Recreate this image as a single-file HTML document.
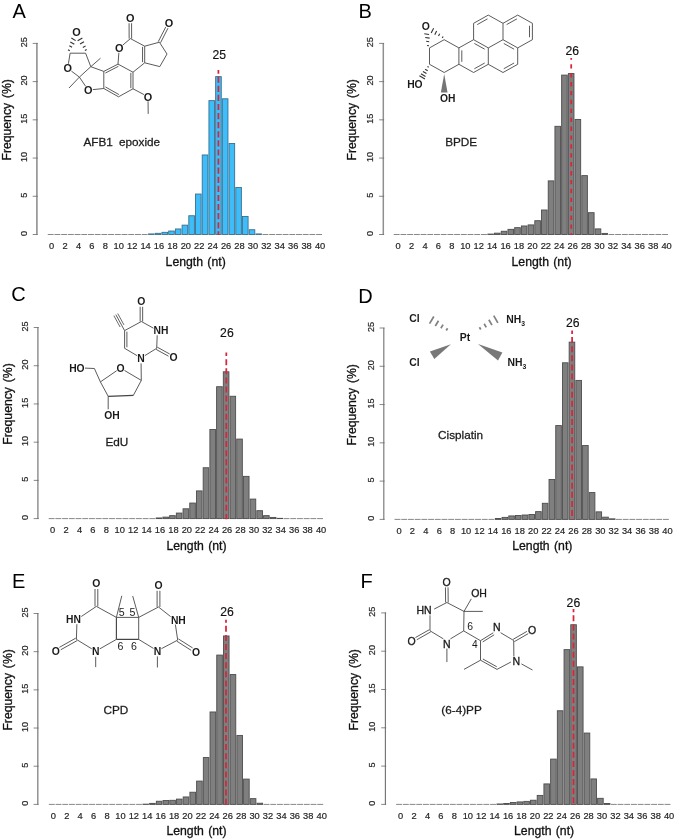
<!DOCTYPE html>
<html><head><meta charset="utf-8"><title>Figure</title>
<style>
html,body{margin:0;padding:0;background:#fff;}
svg{display:block;font-family:"Liberation Sans",sans-serif;will-change:transform;}
</style></head><body>
<svg width="674" height="840" viewBox="0 0 674 840">
<rect x="0" y="0" width="674" height="840" fill="#ffffff"/>
<text x="12.50" y="17.80" font-size="20"  text-anchor="start" fill="#000" >A</text>
<line x1="36.90" y1="43.10" x2="36.90" y2="234.80" stroke="#969696" stroke-width="1.7" />
<line x1="32.70" y1="234.50" x2="37.70" y2="234.50" stroke="#6a6a6a" stroke-width="0.8" />
<text transform="translate(27.40,233.40) rotate(-90)" font-size="9.1" text-anchor="middle" fill="#262626" stroke="#262626" stroke-width="0.2">0</text>
<line x1="32.70" y1="196.28" x2="37.70" y2="196.28" stroke="#6a6a6a" stroke-width="0.8" />
<text transform="translate(27.40,195.18) rotate(-90)" font-size="9.1" text-anchor="middle" fill="#262626" stroke="#262626" stroke-width="0.2">5</text>
<line x1="32.70" y1="158.06" x2="37.70" y2="158.06" stroke="#6a6a6a" stroke-width="0.8" />
<text transform="translate(27.40,156.96) rotate(-90)" font-size="9.1" text-anchor="middle" fill="#262626" stroke="#262626" stroke-width="0.2">10</text>
<line x1="32.70" y1="119.84" x2="37.70" y2="119.84" stroke="#6a6a6a" stroke-width="0.8" />
<text transform="translate(27.40,118.74) rotate(-90)" font-size="9.1" text-anchor="middle" fill="#262626" stroke="#262626" stroke-width="0.2">15</text>
<line x1="32.70" y1="81.62" x2="37.70" y2="81.62" stroke="#6a6a6a" stroke-width="0.8" />
<text transform="translate(27.40,80.52) rotate(-90)" font-size="9.1" text-anchor="middle" fill="#262626" stroke="#262626" stroke-width="0.2">20</text>
<line x1="32.70" y1="43.40" x2="37.70" y2="43.40" stroke="#6a6a6a" stroke-width="0.8" />
<text transform="translate(27.40,42.30) rotate(-90)" font-size="9.1" text-anchor="middle" fill="#262626" stroke="#262626" stroke-width="0.2">25</text>
<text transform="translate(10.70,119.80) rotate(-90)" font-size="12.2" word-spacing="1.5" text-anchor="middle" fill="#111" stroke="#111" stroke-width="0.3">Frequency (%)</text>
<line x1="47.75" y1="234.50" x2="53.65" y2="234.50" stroke="#555555" stroke-width="0.7" />
<line x1="54.46" y1="234.50" x2="60.36" y2="234.50" stroke="#555555" stroke-width="0.7" />
<line x1="61.17" y1="234.50" x2="67.07" y2="234.50" stroke="#555555" stroke-width="0.7" />
<line x1="67.88" y1="234.50" x2="73.78" y2="234.50" stroke="#555555" stroke-width="0.7" />
<line x1="74.59" y1="234.50" x2="80.49" y2="234.50" stroke="#555555" stroke-width="0.7" />
<line x1="81.30" y1="234.50" x2="87.20" y2="234.50" stroke="#555555" stroke-width="0.7" />
<line x1="88.01" y1="234.50" x2="93.91" y2="234.50" stroke="#555555" stroke-width="0.7" />
<line x1="94.72" y1="234.50" x2="100.62" y2="234.50" stroke="#555555" stroke-width="0.7" />
<line x1="101.43" y1="234.50" x2="107.33" y2="234.50" stroke="#555555" stroke-width="0.7" />
<line x1="108.14" y1="234.50" x2="114.04" y2="234.50" stroke="#555555" stroke-width="0.7" />
<line x1="114.85" y1="234.50" x2="120.75" y2="234.50" stroke="#555555" stroke-width="0.7" />
<line x1="121.56" y1="234.50" x2="127.46" y2="234.50" stroke="#555555" stroke-width="0.7" />
<line x1="128.27" y1="234.50" x2="134.17" y2="234.50" stroke="#555555" stroke-width="0.7" />
<line x1="134.98" y1="234.50" x2="140.88" y2="234.50" stroke="#555555" stroke-width="0.7" />
<line x1="141.69" y1="234.50" x2="147.59" y2="234.50" stroke="#555555" stroke-width="0.7" />
<rect x="148.55" y="233.93" width="5.6" height="0.57" fill="#3dbdf9" stroke="#3d6f8c" stroke-width="0.9"/>
<rect x="155.26" y="233.32" width="5.6" height="1.18" fill="#3dbdf9" stroke="#3d6f8c" stroke-width="0.9"/>
<rect x="161.97" y="232.33" width="5.6" height="2.17" fill="#3dbdf9" stroke="#3d6f8c" stroke-width="0.9"/>
<rect x="168.68" y="231.03" width="5.6" height="3.47" fill="#3dbdf9" stroke="#3d6f8c" stroke-width="0.9"/>
<rect x="175.39" y="228.96" width="5.6" height="5.54" fill="#3dbdf9" stroke="#3d6f8c" stroke-width="0.9"/>
<rect x="182.10" y="225.14" width="5.6" height="9.36" fill="#3dbdf9" stroke="#3d6f8c" stroke-width="0.9"/>
<rect x="188.81" y="215.74" width="5.6" height="18.76" fill="#3dbdf9" stroke="#3d6f8c" stroke-width="0.9"/>
<rect x="195.52" y="194.03" width="5.6" height="40.47" fill="#3dbdf9" stroke="#3d6f8c" stroke-width="0.9"/>
<rect x="202.23" y="154.97" width="5.6" height="79.53" fill="#3dbdf9" stroke="#3d6f8c" stroke-width="0.9"/>
<rect x="208.94" y="100.62" width="5.6" height="133.88" fill="#3dbdf9" stroke="#3d6f8c" stroke-width="0.9"/>
<rect x="215.65" y="76.62" width="5.6" height="157.88" fill="#3dbdf9" stroke="#3d6f8c" stroke-width="0.9"/>
<rect x="222.36" y="98.79" width="5.6" height="135.71" fill="#3dbdf9" stroke="#3d6f8c" stroke-width="0.9"/>
<rect x="229.07" y="143.50" width="5.6" height="91.00" fill="#3dbdf9" stroke="#3d6f8c" stroke-width="0.9"/>
<rect x="235.78" y="187.46" width="5.6" height="47.04" fill="#3dbdf9" stroke="#3d6f8c" stroke-width="0.9"/>
<rect x="242.49" y="216.50" width="5.6" height="18.00" fill="#3dbdf9" stroke="#3d6f8c" stroke-width="0.9"/>
<rect x="249.20" y="229.73" width="5.6" height="4.77" fill="#3dbdf9" stroke="#3d6f8c" stroke-width="0.9"/>
<rect x="255.91" y="233.93" width="5.6" height="0.57" fill="#3dbdf9" stroke="#3d6f8c" stroke-width="0.9"/>
<line x1="262.47" y1="234.50" x2="268.37" y2="234.50" stroke="#555555" stroke-width="0.7" />
<line x1="269.18" y1="234.50" x2="275.08" y2="234.50" stroke="#555555" stroke-width="0.7" />
<line x1="275.89" y1="234.50" x2="281.79" y2="234.50" stroke="#555555" stroke-width="0.7" />
<line x1="282.60" y1="234.50" x2="288.50" y2="234.50" stroke="#555555" stroke-width="0.7" />
<line x1="289.31" y1="234.50" x2="295.21" y2="234.50" stroke="#555555" stroke-width="0.7" />
<line x1="296.02" y1="234.50" x2="301.92" y2="234.50" stroke="#555555" stroke-width="0.7" />
<line x1="302.73" y1="234.50" x2="308.63" y2="234.50" stroke="#555555" stroke-width="0.7" />
<line x1="309.44" y1="234.50" x2="315.34" y2="234.50" stroke="#555555" stroke-width="0.7" />
<line x1="316.15" y1="234.50" x2="322.05" y2="234.50" stroke="#555555" stroke-width="0.7" />
<text x="51.65" y="249.30" font-size="9.3" text-anchor="middle" fill="#262626" stroke="#262626" stroke-width="0.2">0</text>
<text x="65.07" y="249.30" font-size="9.3" text-anchor="middle" fill="#262626" stroke="#262626" stroke-width="0.2">2</text>
<text x="78.49" y="249.30" font-size="9.3" text-anchor="middle" fill="#262626" stroke="#262626" stroke-width="0.2">4</text>
<text x="91.91" y="249.30" font-size="9.3" text-anchor="middle" fill="#262626" stroke="#262626" stroke-width="0.2">6</text>
<text x="105.33" y="249.30" font-size="9.3" text-anchor="middle" fill="#262626" stroke="#262626" stroke-width="0.2">8</text>
<text x="118.75" y="249.30" font-size="9.3" text-anchor="middle" fill="#262626" stroke="#262626" stroke-width="0.2">10</text>
<text x="132.17" y="249.30" font-size="9.3" text-anchor="middle" fill="#262626" stroke="#262626" stroke-width="0.2">12</text>
<text x="145.59" y="249.30" font-size="9.3" text-anchor="middle" fill="#262626" stroke="#262626" stroke-width="0.2">14</text>
<text x="159.01" y="249.30" font-size="9.3" text-anchor="middle" fill="#262626" stroke="#262626" stroke-width="0.2">16</text>
<text x="172.43" y="249.30" font-size="9.3" text-anchor="middle" fill="#262626" stroke="#262626" stroke-width="0.2">18</text>
<text x="185.85" y="249.30" font-size="9.3" text-anchor="middle" fill="#262626" stroke="#262626" stroke-width="0.2">20</text>
<text x="199.27" y="249.30" font-size="9.3" text-anchor="middle" fill="#262626" stroke="#262626" stroke-width="0.2">22</text>
<text x="212.69" y="249.30" font-size="9.3" text-anchor="middle" fill="#262626" stroke="#262626" stroke-width="0.2">24</text>
<text x="226.11" y="249.30" font-size="9.3" text-anchor="middle" fill="#262626" stroke="#262626" stroke-width="0.2">26</text>
<text x="239.53" y="249.30" font-size="9.3" text-anchor="middle" fill="#262626" stroke="#262626" stroke-width="0.2">28</text>
<text x="252.95" y="249.30" font-size="9.3" text-anchor="middle" fill="#262626" stroke="#262626" stroke-width="0.2">30</text>
<text x="266.37" y="249.30" font-size="9.3" text-anchor="middle" fill="#262626" stroke="#262626" stroke-width="0.2">32</text>
<text x="279.79" y="249.30" font-size="9.3" text-anchor="middle" fill="#262626" stroke="#262626" stroke-width="0.2">34</text>
<text x="293.21" y="249.30" font-size="9.3" text-anchor="middle" fill="#262626" stroke="#262626" stroke-width="0.2">36</text>
<text x="306.63" y="249.30" font-size="9.3" text-anchor="middle" fill="#262626" stroke="#262626" stroke-width="0.2">38</text>
<text x="320.05" y="249.30" font-size="9.3" text-anchor="middle" fill="#262626" stroke="#262626" stroke-width="0.2">40</text>
<text x="195.65" y="265.50" font-size="12.25"  text-anchor="middle" fill="#111" word-spacing="0.9" stroke="#111" stroke-width="0.3">Length (nt)</text>
<line x1="218.40" y1="70.10" x2="218.40" y2="235.10" stroke="#d9253a" stroke-width="1.75" stroke-dasharray="6.2 2.9" stroke-dashoffset="2.6"/>
<text x="219.30" y="59.00" font-size="12.2"  text-anchor="middle" fill="#111" stroke="#111" stroke-width="0.15">25</text>
<text x="83.50" y="145.80" font-size="11.75"  text-anchor="start" fill="#1c1c1c" stroke="#1c1c1c" stroke-width="0.28">AFB1</text>
<text x="119.00" y="145.80" font-size="11.75"  text-anchor="start" fill="#1c1c1c" stroke="#1c1c1c" stroke-width="0.28">epoxide</text>
<text x="358.40" y="17.50" font-size="20"  text-anchor="start" fill="#000" >B</text>
<line x1="383.30" y1="43.10" x2="383.30" y2="234.80" stroke="#8f8f8f" stroke-width="1.5" />
<line x1="379.10" y1="234.50" x2="384.10" y2="234.50" stroke="#6a6a6a" stroke-width="0.8" />
<text transform="translate(373.20,233.40) rotate(-90)" font-size="9.1" text-anchor="middle" fill="#262626" stroke="#262626" stroke-width="0.2">0</text>
<line x1="379.10" y1="196.28" x2="384.10" y2="196.28" stroke="#6a6a6a" stroke-width="0.8" />
<text transform="translate(373.20,195.18) rotate(-90)" font-size="9.1" text-anchor="middle" fill="#262626" stroke="#262626" stroke-width="0.2">5</text>
<line x1="379.10" y1="158.06" x2="384.10" y2="158.06" stroke="#6a6a6a" stroke-width="0.8" />
<text transform="translate(373.20,156.96) rotate(-90)" font-size="9.1" text-anchor="middle" fill="#262626" stroke="#262626" stroke-width="0.2">10</text>
<line x1="379.10" y1="119.84" x2="384.10" y2="119.84" stroke="#6a6a6a" stroke-width="0.8" />
<text transform="translate(373.20,118.74) rotate(-90)" font-size="9.1" text-anchor="middle" fill="#262626" stroke="#262626" stroke-width="0.2">15</text>
<line x1="379.10" y1="81.62" x2="384.10" y2="81.62" stroke="#6a6a6a" stroke-width="0.8" />
<text transform="translate(373.20,80.52) rotate(-90)" font-size="9.1" text-anchor="middle" fill="#262626" stroke="#262626" stroke-width="0.2">20</text>
<line x1="379.10" y1="43.40" x2="384.10" y2="43.40" stroke="#6a6a6a" stroke-width="0.8" />
<text transform="translate(373.20,42.30) rotate(-90)" font-size="9.1" text-anchor="middle" fill="#262626" stroke="#262626" stroke-width="0.2">25</text>
<text transform="translate(355.50,119.80) rotate(-90)" font-size="12.2" word-spacing="1.5" text-anchor="middle" fill="#111" stroke="#111" stroke-width="0.3">Frequency (%)</text>
<line x1="393.75" y1="234.50" x2="399.65" y2="234.50" stroke="#555555" stroke-width="0.7" />
<line x1="400.46" y1="234.50" x2="406.36" y2="234.50" stroke="#555555" stroke-width="0.7" />
<line x1="407.17" y1="234.50" x2="413.07" y2="234.50" stroke="#555555" stroke-width="0.7" />
<line x1="413.88" y1="234.50" x2="419.78" y2="234.50" stroke="#555555" stroke-width="0.7" />
<line x1="420.59" y1="234.50" x2="426.49" y2="234.50" stroke="#555555" stroke-width="0.7" />
<line x1="427.30" y1="234.50" x2="433.20" y2="234.50" stroke="#555555" stroke-width="0.7" />
<line x1="434.01" y1="234.50" x2="439.91" y2="234.50" stroke="#555555" stroke-width="0.7" />
<line x1="440.72" y1="234.50" x2="446.62" y2="234.50" stroke="#555555" stroke-width="0.7" />
<line x1="447.43" y1="234.50" x2="453.33" y2="234.50" stroke="#555555" stroke-width="0.7" />
<line x1="454.14" y1="234.50" x2="460.04" y2="234.50" stroke="#555555" stroke-width="0.7" />
<line x1="460.85" y1="234.50" x2="466.75" y2="234.50" stroke="#555555" stroke-width="0.7" />
<line x1="467.56" y1="234.50" x2="473.46" y2="234.50" stroke="#555555" stroke-width="0.7" />
<line x1="474.27" y1="234.50" x2="480.17" y2="234.50" stroke="#555555" stroke-width="0.7" />
<line x1="480.98" y1="234.50" x2="486.88" y2="234.50" stroke="#555555" stroke-width="0.7" />
<rect x="487.84" y="234.09" width="5.6" height="0.41" fill="#7f7f7f" stroke="#4d4d4d" stroke-width="0.9"/>
<rect x="494.55" y="233.17" width="5.6" height="1.33" fill="#7f7f7f" stroke="#4d4d4d" stroke-width="0.9"/>
<rect x="501.26" y="231.26" width="5.6" height="3.24" fill="#7f7f7f" stroke="#4d4d4d" stroke-width="0.9"/>
<rect x="507.97" y="229.35" width="5.6" height="5.15" fill="#7f7f7f" stroke="#4d4d4d" stroke-width="0.9"/>
<rect x="514.68" y="227.66" width="5.6" height="6.84" fill="#7f7f7f" stroke="#4d4d4d" stroke-width="0.9"/>
<rect x="521.39" y="225.98" width="5.6" height="8.52" fill="#7f7f7f" stroke="#4d4d4d" stroke-width="0.9"/>
<rect x="528.10" y="224.91" width="5.6" height="9.59" fill="#7f7f7f" stroke="#4d4d4d" stroke-width="0.9"/>
<rect x="534.81" y="220.71" width="5.6" height="13.79" fill="#7f7f7f" stroke="#4d4d4d" stroke-width="0.9"/>
<rect x="541.52" y="210.01" width="5.6" height="24.49" fill="#7f7f7f" stroke="#4d4d4d" stroke-width="0.9"/>
<rect x="548.23" y="180.88" width="5.6" height="53.62" fill="#7f7f7f" stroke="#4d4d4d" stroke-width="0.9"/>
<rect x="554.94" y="126.31" width="5.6" height="108.19" fill="#7f7f7f" stroke="#4d4d4d" stroke-width="0.9"/>
<rect x="561.65" y="75.09" width="5.6" height="159.41" fill="#7f7f7f" stroke="#4d4d4d" stroke-width="0.9"/>
<rect x="568.36" y="73.56" width="5.6" height="160.94" fill="#7f7f7f" stroke="#4d4d4d" stroke-width="0.9"/>
<rect x="575.07" y="119.43" width="5.6" height="115.07" fill="#7f7f7f" stroke="#4d4d4d" stroke-width="0.9"/>
<rect x="581.78" y="175.61" width="5.6" height="58.89" fill="#7f7f7f" stroke="#4d4d4d" stroke-width="0.9"/>
<rect x="588.49" y="212.68" width="5.6" height="21.82" fill="#7f7f7f" stroke="#4d4d4d" stroke-width="0.9"/>
<rect x="595.20" y="228.89" width="5.6" height="5.61" fill="#7f7f7f" stroke="#4d4d4d" stroke-width="0.9"/>
<rect x="601.91" y="233.40" width="5.6" height="1.10" fill="#7f7f7f" stroke="#4d4d4d" stroke-width="0.9"/>
<line x1="608.47" y1="234.50" x2="614.37" y2="234.50" stroke="#555555" stroke-width="0.7" />
<line x1="615.18" y1="234.50" x2="621.08" y2="234.50" stroke="#555555" stroke-width="0.7" />
<line x1="621.89" y1="234.50" x2="627.79" y2="234.50" stroke="#555555" stroke-width="0.7" />
<line x1="628.60" y1="234.50" x2="634.50" y2="234.50" stroke="#555555" stroke-width="0.7" />
<line x1="635.31" y1="234.50" x2="641.21" y2="234.50" stroke="#555555" stroke-width="0.7" />
<line x1="642.02" y1="234.50" x2="647.92" y2="234.50" stroke="#555555" stroke-width="0.7" />
<line x1="648.73" y1="234.50" x2="654.63" y2="234.50" stroke="#555555" stroke-width="0.7" />
<line x1="655.44" y1="234.50" x2="661.34" y2="234.50" stroke="#555555" stroke-width="0.7" />
<line x1="662.15" y1="234.50" x2="668.05" y2="234.50" stroke="#555555" stroke-width="0.7" />
<text x="398.20" y="249.30" font-size="9.3" text-anchor="middle" fill="#262626" stroke="#262626" stroke-width="0.2">0</text>
<text x="411.62" y="249.30" font-size="9.3" text-anchor="middle" fill="#262626" stroke="#262626" stroke-width="0.2">2</text>
<text x="425.04" y="249.30" font-size="9.3" text-anchor="middle" fill="#262626" stroke="#262626" stroke-width="0.2">4</text>
<text x="438.46" y="249.30" font-size="9.3" text-anchor="middle" fill="#262626" stroke="#262626" stroke-width="0.2">6</text>
<text x="451.88" y="249.30" font-size="9.3" text-anchor="middle" fill="#262626" stroke="#262626" stroke-width="0.2">8</text>
<text x="465.30" y="249.30" font-size="9.3" text-anchor="middle" fill="#262626" stroke="#262626" stroke-width="0.2">10</text>
<text x="478.72" y="249.30" font-size="9.3" text-anchor="middle" fill="#262626" stroke="#262626" stroke-width="0.2">12</text>
<text x="492.14" y="249.30" font-size="9.3" text-anchor="middle" fill="#262626" stroke="#262626" stroke-width="0.2">14</text>
<text x="505.56" y="249.30" font-size="9.3" text-anchor="middle" fill="#262626" stroke="#262626" stroke-width="0.2">16</text>
<text x="518.98" y="249.30" font-size="9.3" text-anchor="middle" fill="#262626" stroke="#262626" stroke-width="0.2">18</text>
<text x="532.40" y="249.30" font-size="9.3" text-anchor="middle" fill="#262626" stroke="#262626" stroke-width="0.2">20</text>
<text x="545.82" y="249.30" font-size="9.3" text-anchor="middle" fill="#262626" stroke="#262626" stroke-width="0.2">22</text>
<text x="559.24" y="249.30" font-size="9.3" text-anchor="middle" fill="#262626" stroke="#262626" stroke-width="0.2">24</text>
<text x="572.66" y="249.30" font-size="9.3" text-anchor="middle" fill="#262626" stroke="#262626" stroke-width="0.2">26</text>
<text x="586.08" y="249.30" font-size="9.3" text-anchor="middle" fill="#262626" stroke="#262626" stroke-width="0.2">28</text>
<text x="599.50" y="249.30" font-size="9.3" text-anchor="middle" fill="#262626" stroke="#262626" stroke-width="0.2">30</text>
<text x="612.92" y="249.30" font-size="9.3" text-anchor="middle" fill="#262626" stroke="#262626" stroke-width="0.2">32</text>
<text x="626.34" y="249.30" font-size="9.3" text-anchor="middle" fill="#262626" stroke="#262626" stroke-width="0.2">34</text>
<text x="639.76" y="249.30" font-size="9.3" text-anchor="middle" fill="#262626" stroke="#262626" stroke-width="0.2">36</text>
<text x="653.18" y="249.30" font-size="9.3" text-anchor="middle" fill="#262626" stroke="#262626" stroke-width="0.2">38</text>
<text x="666.60" y="249.30" font-size="9.3" text-anchor="middle" fill="#262626" stroke="#262626" stroke-width="0.2">40</text>
<text x="541.60" y="265.50" font-size="12.25"  text-anchor="middle" fill="#111" word-spacing="0.9" stroke="#111" stroke-width="0.3">Length (nt)</text>
<line x1="571.20" y1="58.00" x2="571.20" y2="235.10" stroke="#d9253a" stroke-width="1.75" stroke-dasharray="4.4 4.5" stroke-dashoffset="2.7"/>
<text x="572.20" y="54.80" font-size="12.2"  text-anchor="middle" fill="#111" stroke="#111" stroke-width="0.15">26</text>
<text x="445.20" y="146.10" font-size="11.75"  text-anchor="start" fill="#1c1c1c" stroke="#1c1c1c" stroke-width="0.28">BPDE</text>
<text x="11.20" y="301.30" font-size="20"  text-anchor="start" fill="#000" >C</text>
<line x1="37.90" y1="327.20" x2="37.90" y2="518.90" stroke="#8a8a8a" stroke-width="1.4" />
<line x1="33.70" y1="518.60" x2="38.70" y2="518.60" stroke="#6a6a6a" stroke-width="0.8" />
<text transform="translate(28.40,517.50) rotate(-90)" font-size="9.1" text-anchor="middle" fill="#262626" stroke="#262626" stroke-width="0.2">0</text>
<line x1="33.70" y1="480.38" x2="38.70" y2="480.38" stroke="#6a6a6a" stroke-width="0.8" />
<text transform="translate(28.40,479.28) rotate(-90)" font-size="9.1" text-anchor="middle" fill="#262626" stroke="#262626" stroke-width="0.2">5</text>
<line x1="33.70" y1="442.16" x2="38.70" y2="442.16" stroke="#6a6a6a" stroke-width="0.8" />
<text transform="translate(28.40,441.06) rotate(-90)" font-size="9.1" text-anchor="middle" fill="#262626" stroke="#262626" stroke-width="0.2">10</text>
<line x1="33.70" y1="403.94" x2="38.70" y2="403.94" stroke="#6a6a6a" stroke-width="0.8" />
<text transform="translate(28.40,402.84) rotate(-90)" font-size="9.1" text-anchor="middle" fill="#262626" stroke="#262626" stroke-width="0.2">15</text>
<line x1="33.70" y1="365.72" x2="38.70" y2="365.72" stroke="#6a6a6a" stroke-width="0.8" />
<text transform="translate(28.40,364.62) rotate(-90)" font-size="9.1" text-anchor="middle" fill="#262626" stroke="#262626" stroke-width="0.2">20</text>
<line x1="33.70" y1="327.50" x2="38.70" y2="327.50" stroke="#6a6a6a" stroke-width="0.8" />
<text transform="translate(28.40,326.40) rotate(-90)" font-size="9.1" text-anchor="middle" fill="#262626" stroke="#262626" stroke-width="0.2">25</text>
<text transform="translate(11.70,404.00) rotate(-90)" font-size="12.2" word-spacing="1.5" text-anchor="middle" fill="#111" stroke="#111" stroke-width="0.3">Frequency (%)</text>
<line x1="48.70" y1="518.60" x2="54.60" y2="518.60" stroke="#555555" stroke-width="0.7" />
<line x1="55.41" y1="518.60" x2="61.31" y2="518.60" stroke="#555555" stroke-width="0.7" />
<line x1="62.12" y1="518.60" x2="68.02" y2="518.60" stroke="#555555" stroke-width="0.7" />
<line x1="68.83" y1="518.60" x2="74.73" y2="518.60" stroke="#555555" stroke-width="0.7" />
<line x1="75.54" y1="518.60" x2="81.44" y2="518.60" stroke="#555555" stroke-width="0.7" />
<line x1="82.25" y1="518.60" x2="88.15" y2="518.60" stroke="#555555" stroke-width="0.7" />
<line x1="88.96" y1="518.60" x2="94.86" y2="518.60" stroke="#555555" stroke-width="0.7" />
<line x1="95.67" y1="518.60" x2="101.57" y2="518.60" stroke="#555555" stroke-width="0.7" />
<line x1="102.38" y1="518.60" x2="108.28" y2="518.60" stroke="#555555" stroke-width="0.7" />
<line x1="109.09" y1="518.60" x2="114.99" y2="518.60" stroke="#555555" stroke-width="0.7" />
<line x1="115.80" y1="518.60" x2="121.70" y2="518.60" stroke="#555555" stroke-width="0.7" />
<line x1="122.51" y1="518.60" x2="128.41" y2="518.60" stroke="#555555" stroke-width="0.7" />
<line x1="129.22" y1="518.60" x2="135.12" y2="518.60" stroke="#555555" stroke-width="0.7" />
<line x1="135.93" y1="518.60" x2="141.83" y2="518.60" stroke="#555555" stroke-width="0.7" />
<line x1="142.64" y1="518.60" x2="148.54" y2="518.60" stroke="#555555" stroke-width="0.7" />
<line x1="149.35" y1="518.60" x2="155.25" y2="518.60" stroke="#555555" stroke-width="0.7" />
<rect x="156.21" y="517.96" width="5.6" height="0.64" fill="#7f7f7f" stroke="#4d4d4d" stroke-width="0.9"/>
<rect x="162.92" y="517.12" width="5.6" height="1.48" fill="#7f7f7f" stroke="#4d4d4d" stroke-width="0.9"/>
<rect x="169.63" y="515.66" width="5.6" height="2.94" fill="#7f7f7f" stroke="#4d4d4d" stroke-width="0.9"/>
<rect x="176.34" y="513.06" width="5.6" height="5.54" fill="#7f7f7f" stroke="#4d4d4d" stroke-width="0.9"/>
<rect x="183.05" y="508.78" width="5.6" height="9.82" fill="#7f7f7f" stroke="#4d4d4d" stroke-width="0.9"/>
<rect x="189.76" y="503.05" width="5.6" height="15.55" fill="#7f7f7f" stroke="#4d4d4d" stroke-width="0.9"/>
<rect x="196.47" y="490.90" width="5.6" height="27.70" fill="#7f7f7f" stroke="#4d4d4d" stroke-width="0.9"/>
<rect x="203.18" y="467.74" width="5.6" height="50.86" fill="#7f7f7f" stroke="#4d4d4d" stroke-width="0.9"/>
<rect x="209.89" y="429.52" width="5.6" height="89.08" fill="#7f7f7f" stroke="#4d4d4d" stroke-width="0.9"/>
<rect x="216.60" y="386.71" width="5.6" height="131.89" fill="#7f7f7f" stroke="#4d4d4d" stroke-width="0.9"/>
<rect x="223.31" y="371.80" width="5.6" height="146.80" fill="#7f7f7f" stroke="#4d4d4d" stroke-width="0.9"/>
<rect x="230.02" y="396.26" width="5.6" height="122.34" fill="#7f7f7f" stroke="#4d4d4d" stroke-width="0.9"/>
<rect x="236.73" y="439.07" width="5.6" height="79.53" fill="#7f7f7f" stroke="#4d4d4d" stroke-width="0.9"/>
<rect x="243.44" y="476.37" width="5.6" height="42.23" fill="#7f7f7f" stroke="#4d4d4d" stroke-width="0.9"/>
<rect x="250.15" y="499.08" width="5.6" height="19.52" fill="#7f7f7f" stroke="#4d4d4d" stroke-width="0.9"/>
<rect x="256.86" y="510.69" width="5.6" height="7.91" fill="#7f7f7f" stroke="#4d4d4d" stroke-width="0.9"/>
<rect x="263.57" y="515.66" width="5.6" height="2.94" fill="#7f7f7f" stroke="#4d4d4d" stroke-width="0.9"/>
<rect x="270.28" y="517.42" width="5.6" height="1.18" fill="#7f7f7f" stroke="#4d4d4d" stroke-width="0.9"/>
<rect x="276.99" y="518.34" width="5.6" height="0.26" fill="#7f7f7f" stroke="#4d4d4d" stroke-width="0.9"/>
<line x1="283.55" y1="518.60" x2="289.45" y2="518.60" stroke="#555555" stroke-width="0.7" />
<line x1="290.26" y1="518.60" x2="296.16" y2="518.60" stroke="#555555" stroke-width="0.7" />
<line x1="296.97" y1="518.60" x2="302.87" y2="518.60" stroke="#555555" stroke-width="0.7" />
<line x1="303.68" y1="518.60" x2="309.58" y2="518.60" stroke="#555555" stroke-width="0.7" />
<line x1="310.39" y1="518.60" x2="316.29" y2="518.60" stroke="#555555" stroke-width="0.7" />
<line x1="317.10" y1="518.60" x2="323.00" y2="518.60" stroke="#555555" stroke-width="0.7" />
<text x="52.65" y="533.40" font-size="9.3" text-anchor="middle" fill="#262626" stroke="#262626" stroke-width="0.2">0</text>
<text x="66.07" y="533.40" font-size="9.3" text-anchor="middle" fill="#262626" stroke="#262626" stroke-width="0.2">2</text>
<text x="79.49" y="533.40" font-size="9.3" text-anchor="middle" fill="#262626" stroke="#262626" stroke-width="0.2">4</text>
<text x="92.91" y="533.40" font-size="9.3" text-anchor="middle" fill="#262626" stroke="#262626" stroke-width="0.2">6</text>
<text x="106.33" y="533.40" font-size="9.3" text-anchor="middle" fill="#262626" stroke="#262626" stroke-width="0.2">8</text>
<text x="119.75" y="533.40" font-size="9.3" text-anchor="middle" fill="#262626" stroke="#262626" stroke-width="0.2">10</text>
<text x="133.17" y="533.40" font-size="9.3" text-anchor="middle" fill="#262626" stroke="#262626" stroke-width="0.2">12</text>
<text x="146.59" y="533.40" font-size="9.3" text-anchor="middle" fill="#262626" stroke="#262626" stroke-width="0.2">14</text>
<text x="160.01" y="533.40" font-size="9.3" text-anchor="middle" fill="#262626" stroke="#262626" stroke-width="0.2">16</text>
<text x="173.43" y="533.40" font-size="9.3" text-anchor="middle" fill="#262626" stroke="#262626" stroke-width="0.2">18</text>
<text x="186.85" y="533.40" font-size="9.3" text-anchor="middle" fill="#262626" stroke="#262626" stroke-width="0.2">20</text>
<text x="200.27" y="533.40" font-size="9.3" text-anchor="middle" fill="#262626" stroke="#262626" stroke-width="0.2">22</text>
<text x="213.69" y="533.40" font-size="9.3" text-anchor="middle" fill="#262626" stroke="#262626" stroke-width="0.2">24</text>
<text x="227.11" y="533.40" font-size="9.3" text-anchor="middle" fill="#262626" stroke="#262626" stroke-width="0.2">26</text>
<text x="240.53" y="533.40" font-size="9.3" text-anchor="middle" fill="#262626" stroke="#262626" stroke-width="0.2">28</text>
<text x="253.95" y="533.40" font-size="9.3" text-anchor="middle" fill="#262626" stroke="#262626" stroke-width="0.2">30</text>
<text x="267.37" y="533.40" font-size="9.3" text-anchor="middle" fill="#262626" stroke="#262626" stroke-width="0.2">32</text>
<text x="280.79" y="533.40" font-size="9.3" text-anchor="middle" fill="#262626" stroke="#262626" stroke-width="0.2">34</text>
<text x="294.21" y="533.40" font-size="9.3" text-anchor="middle" fill="#262626" stroke="#262626" stroke-width="0.2">36</text>
<text x="307.63" y="533.40" font-size="9.3" text-anchor="middle" fill="#262626" stroke="#262626" stroke-width="0.2">38</text>
<text x="321.05" y="533.40" font-size="9.3" text-anchor="middle" fill="#262626" stroke="#262626" stroke-width="0.2">40</text>
<text x="196.50" y="549.60" font-size="12.25"  text-anchor="middle" fill="#111" word-spacing="0.9" stroke="#111" stroke-width="0.3">Length (nt)</text>
<line x1="226.30" y1="352.50" x2="226.30" y2="519.20" stroke="#d9253a" stroke-width="1.75" stroke-dasharray="6 3.1" stroke-dashoffset="2.4"/>
<text x="226.90" y="336.70" font-size="12.2"  text-anchor="middle" fill="#111" stroke="#111" stroke-width="0.15">26</text>
<text x="105.40" y="445.50" font-size="11.75"  text-anchor="start" fill="#1c1c1c" stroke="#1c1c1c" stroke-width="0.28">EdU</text>
<text x="358.20" y="302.50" font-size="20"  text-anchor="start" fill="#000" >D</text>
<line x1="383.80" y1="327.70" x2="383.80" y2="519.70" stroke="#7c7c7c" stroke-width="1.2" />
<line x1="379.60" y1="519.40" x2="384.60" y2="519.40" stroke="#6a6a6a" stroke-width="0.8" />
<text transform="translate(373.70,518.30) rotate(-90)" font-size="9.1" text-anchor="middle" fill="#262626" stroke="#262626" stroke-width="0.2">0</text>
<line x1="379.60" y1="481.12" x2="384.60" y2="481.12" stroke="#6a6a6a" stroke-width="0.8" />
<text transform="translate(373.70,480.02) rotate(-90)" font-size="9.1" text-anchor="middle" fill="#262626" stroke="#262626" stroke-width="0.2">5</text>
<line x1="379.60" y1="442.84" x2="384.60" y2="442.84" stroke="#6a6a6a" stroke-width="0.8" />
<text transform="translate(373.70,441.74) rotate(-90)" font-size="9.1" text-anchor="middle" fill="#262626" stroke="#262626" stroke-width="0.2">10</text>
<line x1="379.60" y1="404.56" x2="384.60" y2="404.56" stroke="#6a6a6a" stroke-width="0.8" />
<text transform="translate(373.70,403.46) rotate(-90)" font-size="9.1" text-anchor="middle" fill="#262626" stroke="#262626" stroke-width="0.2">15</text>
<line x1="379.60" y1="366.28" x2="384.60" y2="366.28" stroke="#6a6a6a" stroke-width="0.8" />
<text transform="translate(373.70,365.18) rotate(-90)" font-size="9.1" text-anchor="middle" fill="#262626" stroke="#262626" stroke-width="0.2">20</text>
<line x1="379.60" y1="328.00" x2="384.60" y2="328.00" stroke="#6a6a6a" stroke-width="0.8" />
<text transform="translate(373.70,326.90) rotate(-90)" font-size="9.1" text-anchor="middle" fill="#262626" stroke="#262626" stroke-width="0.2">25</text>
<text transform="translate(355.90,404.85) rotate(-90)" font-size="12.2" word-spacing="1.5" text-anchor="middle" fill="#111" stroke="#111" stroke-width="0.3">Frequency (%)</text>
<line x1="394.55" y1="519.40" x2="400.45" y2="519.40" stroke="#555555" stroke-width="0.7" />
<line x1="401.26" y1="519.40" x2="407.16" y2="519.40" stroke="#555555" stroke-width="0.7" />
<line x1="407.97" y1="519.40" x2="413.87" y2="519.40" stroke="#555555" stroke-width="0.7" />
<line x1="414.68" y1="519.40" x2="420.58" y2="519.40" stroke="#555555" stroke-width="0.7" />
<line x1="421.39" y1="519.40" x2="427.29" y2="519.40" stroke="#555555" stroke-width="0.7" />
<line x1="428.10" y1="519.40" x2="434.00" y2="519.40" stroke="#555555" stroke-width="0.7" />
<line x1="434.81" y1="519.40" x2="440.71" y2="519.40" stroke="#555555" stroke-width="0.7" />
<line x1="441.52" y1="519.40" x2="447.42" y2="519.40" stroke="#555555" stroke-width="0.7" />
<line x1="448.23" y1="519.40" x2="454.13" y2="519.40" stroke="#555555" stroke-width="0.7" />
<line x1="454.94" y1="519.40" x2="460.84" y2="519.40" stroke="#555555" stroke-width="0.7" />
<line x1="461.65" y1="519.40" x2="467.55" y2="519.40" stroke="#555555" stroke-width="0.7" />
<line x1="468.36" y1="519.40" x2="474.26" y2="519.40" stroke="#555555" stroke-width="0.7" />
<line x1="475.07" y1="519.40" x2="480.97" y2="519.40" stroke="#555555" stroke-width="0.7" />
<line x1="481.78" y1="519.40" x2="487.68" y2="519.40" stroke="#555555" stroke-width="0.7" />
<line x1="488.49" y1="519.40" x2="494.39" y2="519.40" stroke="#555555" stroke-width="0.7" />
<rect x="495.35" y="518.53" width="5.6" height="0.87" fill="#7f7f7f" stroke="#4d4d4d" stroke-width="0.9"/>
<rect x="502.06" y="517.38" width="5.6" height="2.02" fill="#7f7f7f" stroke="#4d4d4d" stroke-width="0.9"/>
<rect x="508.77" y="515.92" width="5.6" height="3.48" fill="#7f7f7f" stroke="#4d4d4d" stroke-width="0.9"/>
<rect x="515.48" y="515.46" width="5.6" height="3.94" fill="#7f7f7f" stroke="#4d4d4d" stroke-width="0.9"/>
<rect x="522.19" y="515.00" width="5.6" height="4.40" fill="#7f7f7f" stroke="#4d4d4d" stroke-width="0.9"/>
<rect x="528.90" y="514.47" width="5.6" height="4.93" fill="#7f7f7f" stroke="#4d4d4d" stroke-width="0.9"/>
<rect x="535.61" y="511.63" width="5.6" height="7.77" fill="#7f7f7f" stroke="#4d4d4d" stroke-width="0.9"/>
<rect x="542.32" y="503.29" width="5.6" height="16.11" fill="#7f7f7f" stroke="#4d4d4d" stroke-width="0.9"/>
<rect x="549.03" y="479.48" width="5.6" height="39.92" fill="#7f7f7f" stroke="#4d4d4d" stroke-width="0.9"/>
<rect x="555.74" y="425.58" width="5.6" height="93.82" fill="#7f7f7f" stroke="#4d4d4d" stroke-width="0.9"/>
<rect x="562.45" y="362.80" width="5.6" height="156.60" fill="#7f7f7f" stroke="#4d4d4d" stroke-width="0.9"/>
<rect x="569.16" y="342.13" width="5.6" height="177.27" fill="#7f7f7f" stroke="#4d4d4d" stroke-width="0.9"/>
<rect x="575.87" y="380.41" width="5.6" height="138.99" fill="#7f7f7f" stroke="#4d4d4d" stroke-width="0.9"/>
<rect x="582.58" y="445.49" width="5.6" height="73.91" fill="#7f7f7f" stroke="#4d4d4d" stroke-width="0.9"/>
<rect x="589.29" y="492.57" width="5.6" height="26.83" fill="#7f7f7f" stroke="#4d4d4d" stroke-width="0.9"/>
<rect x="596.00" y="511.86" width="5.6" height="7.54" fill="#7f7f7f" stroke="#4d4d4d" stroke-width="0.9"/>
<rect x="602.71" y="517.15" width="5.6" height="2.25" fill="#7f7f7f" stroke="#4d4d4d" stroke-width="0.9"/>
<rect x="609.42" y="518.83" width="5.6" height="0.57" fill="#7f7f7f" stroke="#4d4d4d" stroke-width="0.9"/>
<line x1="615.98" y1="519.40" x2="621.88" y2="519.40" stroke="#555555" stroke-width="0.7" />
<line x1="622.69" y1="519.40" x2="628.59" y2="519.40" stroke="#555555" stroke-width="0.7" />
<line x1="629.40" y1="519.40" x2="635.30" y2="519.40" stroke="#555555" stroke-width="0.7" />
<line x1="636.11" y1="519.40" x2="642.01" y2="519.40" stroke="#555555" stroke-width="0.7" />
<line x1="642.82" y1="519.40" x2="648.72" y2="519.40" stroke="#555555" stroke-width="0.7" />
<line x1="649.53" y1="519.40" x2="655.43" y2="519.40" stroke="#555555" stroke-width="0.7" />
<line x1="656.24" y1="519.40" x2="662.14" y2="519.40" stroke="#555555" stroke-width="0.7" />
<line x1="662.95" y1="519.40" x2="668.85" y2="519.40" stroke="#555555" stroke-width="0.7" />
<text x="399.00" y="534.20" font-size="9.3" text-anchor="middle" fill="#262626" stroke="#262626" stroke-width="0.2">0</text>
<text x="412.42" y="534.20" font-size="9.3" text-anchor="middle" fill="#262626" stroke="#262626" stroke-width="0.2">2</text>
<text x="425.84" y="534.20" font-size="9.3" text-anchor="middle" fill="#262626" stroke="#262626" stroke-width="0.2">4</text>
<text x="439.26" y="534.20" font-size="9.3" text-anchor="middle" fill="#262626" stroke="#262626" stroke-width="0.2">6</text>
<text x="452.68" y="534.20" font-size="9.3" text-anchor="middle" fill="#262626" stroke="#262626" stroke-width="0.2">8</text>
<text x="466.10" y="534.20" font-size="9.3" text-anchor="middle" fill="#262626" stroke="#262626" stroke-width="0.2">10</text>
<text x="479.52" y="534.20" font-size="9.3" text-anchor="middle" fill="#262626" stroke="#262626" stroke-width="0.2">12</text>
<text x="492.94" y="534.20" font-size="9.3" text-anchor="middle" fill="#262626" stroke="#262626" stroke-width="0.2">14</text>
<text x="506.36" y="534.20" font-size="9.3" text-anchor="middle" fill="#262626" stroke="#262626" stroke-width="0.2">16</text>
<text x="519.78" y="534.20" font-size="9.3" text-anchor="middle" fill="#262626" stroke="#262626" stroke-width="0.2">18</text>
<text x="533.20" y="534.20" font-size="9.3" text-anchor="middle" fill="#262626" stroke="#262626" stroke-width="0.2">20</text>
<text x="546.62" y="534.20" font-size="9.3" text-anchor="middle" fill="#262626" stroke="#262626" stroke-width="0.2">22</text>
<text x="560.04" y="534.20" font-size="9.3" text-anchor="middle" fill="#262626" stroke="#262626" stroke-width="0.2">24</text>
<text x="573.46" y="534.20" font-size="9.3" text-anchor="middle" fill="#262626" stroke="#262626" stroke-width="0.2">26</text>
<text x="586.88" y="534.20" font-size="9.3" text-anchor="middle" fill="#262626" stroke="#262626" stroke-width="0.2">28</text>
<text x="600.30" y="534.20" font-size="9.3" text-anchor="middle" fill="#262626" stroke="#262626" stroke-width="0.2">30</text>
<text x="613.72" y="534.20" font-size="9.3" text-anchor="middle" fill="#262626" stroke="#262626" stroke-width="0.2">32</text>
<text x="627.14" y="534.20" font-size="9.3" text-anchor="middle" fill="#262626" stroke="#262626" stroke-width="0.2">34</text>
<text x="640.56" y="534.20" font-size="9.3" text-anchor="middle" fill="#262626" stroke="#262626" stroke-width="0.2">36</text>
<text x="653.98" y="534.20" font-size="9.3" text-anchor="middle" fill="#262626" stroke="#262626" stroke-width="0.2">38</text>
<text x="667.40" y="534.20" font-size="9.3" text-anchor="middle" fill="#262626" stroke="#262626" stroke-width="0.2">40</text>
<text x="542.30" y="550.40" font-size="12.25"  text-anchor="middle" fill="#111" word-spacing="0.9" stroke="#111" stroke-width="0.3">Length (nt)</text>
<line x1="572.10" y1="330.60" x2="572.10" y2="520.00" stroke="#d9253a" stroke-width="1.75" stroke-dasharray="6 3.1" stroke-dashoffset="2.6"/>
<text x="572.70" y="327.30" font-size="12.2"  text-anchor="middle" fill="#111" stroke="#111" stroke-width="0.15">26</text>
<text x="438.10" y="439.00" font-size="11.75"  text-anchor="start" fill="#1c1c1c" stroke="#1c1c1c" stroke-width="0.28">Cisplatin</text>
<text x="12.00" y="587.80" font-size="20"  text-anchor="start" fill="#000" >E</text>
<line x1="37.80" y1="613.20" x2="37.80" y2="804.70" stroke="#8a8a8a" stroke-width="1.4" />
<line x1="33.60" y1="804.40" x2="38.60" y2="804.40" stroke="#6a6a6a" stroke-width="0.8" />
<text transform="translate(28.30,803.30) rotate(-90)" font-size="9.1" text-anchor="middle" fill="#262626" stroke="#262626" stroke-width="0.2">0</text>
<line x1="33.60" y1="766.22" x2="38.60" y2="766.22" stroke="#6a6a6a" stroke-width="0.8" />
<text transform="translate(28.30,765.12) rotate(-90)" font-size="9.1" text-anchor="middle" fill="#262626" stroke="#262626" stroke-width="0.2">5</text>
<line x1="33.60" y1="728.04" x2="38.60" y2="728.04" stroke="#6a6a6a" stroke-width="0.8" />
<text transform="translate(28.30,726.94) rotate(-90)" font-size="9.1" text-anchor="middle" fill="#262626" stroke="#262626" stroke-width="0.2">10</text>
<line x1="33.60" y1="689.86" x2="38.60" y2="689.86" stroke="#6a6a6a" stroke-width="0.8" />
<text transform="translate(28.30,688.76) rotate(-90)" font-size="9.1" text-anchor="middle" fill="#262626" stroke="#262626" stroke-width="0.2">15</text>
<line x1="33.60" y1="651.68" x2="38.60" y2="651.68" stroke="#6a6a6a" stroke-width="0.8" />
<text transform="translate(28.30,650.58) rotate(-90)" font-size="9.1" text-anchor="middle" fill="#262626" stroke="#262626" stroke-width="0.2">20</text>
<line x1="33.60" y1="613.50" x2="38.60" y2="613.50" stroke="#6a6a6a" stroke-width="0.8" />
<text transform="translate(28.30,612.40) rotate(-90)" font-size="9.1" text-anchor="middle" fill="#262626" stroke="#262626" stroke-width="0.2">25</text>
<text transform="translate(11.70,689.90) rotate(-90)" font-size="12.2" word-spacing="1.5" text-anchor="middle" fill="#111" stroke="#111" stroke-width="0.3">Frequency (%)</text>
<line x1="48.85" y1="804.40" x2="54.75" y2="804.40" stroke="#555555" stroke-width="0.7" />
<line x1="55.56" y1="804.40" x2="61.46" y2="804.40" stroke="#555555" stroke-width="0.7" />
<line x1="62.27" y1="804.40" x2="68.17" y2="804.40" stroke="#555555" stroke-width="0.7" />
<line x1="68.98" y1="804.40" x2="74.88" y2="804.40" stroke="#555555" stroke-width="0.7" />
<line x1="75.69" y1="804.40" x2="81.59" y2="804.40" stroke="#555555" stroke-width="0.7" />
<line x1="82.40" y1="804.40" x2="88.30" y2="804.40" stroke="#555555" stroke-width="0.7" />
<line x1="89.11" y1="804.40" x2="95.01" y2="804.40" stroke="#555555" stroke-width="0.7" />
<line x1="95.82" y1="804.40" x2="101.72" y2="804.40" stroke="#555555" stroke-width="0.7" />
<line x1="102.53" y1="804.40" x2="108.43" y2="804.40" stroke="#555555" stroke-width="0.7" />
<line x1="109.24" y1="804.40" x2="115.14" y2="804.40" stroke="#555555" stroke-width="0.7" />
<line x1="115.95" y1="804.40" x2="121.85" y2="804.40" stroke="#555555" stroke-width="0.7" />
<line x1="122.66" y1="804.40" x2="128.56" y2="804.40" stroke="#555555" stroke-width="0.7" />
<line x1="129.37" y1="804.40" x2="135.27" y2="804.40" stroke="#555555" stroke-width="0.7" />
<line x1="136.08" y1="804.40" x2="141.98" y2="804.40" stroke="#555555" stroke-width="0.7" />
<rect x="142.94" y="804.14" width="5.6" height="0.26" fill="#7f7f7f" stroke="#4d4d4d" stroke-width="0.9"/>
<rect x="149.65" y="803.38" width="5.6" height="1.02" fill="#7f7f7f" stroke="#4d4d4d" stroke-width="0.9"/>
<rect x="156.36" y="801.24" width="5.6" height="3.16" fill="#7f7f7f" stroke="#4d4d4d" stroke-width="0.9"/>
<rect x="163.07" y="800.55" width="5.6" height="3.85" fill="#7f7f7f" stroke="#4d4d4d" stroke-width="0.9"/>
<rect x="169.78" y="800.32" width="5.6" height="4.08" fill="#7f7f7f" stroke="#4d4d4d" stroke-width="0.9"/>
<rect x="176.49" y="799.10" width="5.6" height="5.30" fill="#7f7f7f" stroke="#4d4d4d" stroke-width="0.9"/>
<rect x="183.20" y="796.96" width="5.6" height="7.44" fill="#7f7f7f" stroke="#4d4d4d" stroke-width="0.9"/>
<rect x="189.91" y="792.23" width="5.6" height="12.17" fill="#7f7f7f" stroke="#4d4d4d" stroke-width="0.9"/>
<rect x="196.62" y="781.08" width="5.6" height="23.32" fill="#7f7f7f" stroke="#4d4d4d" stroke-width="0.9"/>
<rect x="203.33" y="757.56" width="5.6" height="46.84" fill="#7f7f7f" stroke="#4d4d4d" stroke-width="0.9"/>
<rect x="210.04" y="711.97" width="5.6" height="92.43" fill="#7f7f7f" stroke="#4d4d4d" stroke-width="0.9"/>
<rect x="216.75" y="655.08" width="5.6" height="149.32" fill="#7f7f7f" stroke="#4d4d4d" stroke-width="0.9"/>
<rect x="223.46" y="635.99" width="5.6" height="168.41" fill="#7f7f7f" stroke="#4d4d4d" stroke-width="0.9"/>
<rect x="230.17" y="674.56" width="5.6" height="129.84" fill="#7f7f7f" stroke="#4d4d4d" stroke-width="0.9"/>
<rect x="236.88" y="735.42" width="5.6" height="68.98" fill="#7f7f7f" stroke="#4d4d4d" stroke-width="0.9"/>
<rect x="243.59" y="779.09" width="5.6" height="25.31" fill="#7f7f7f" stroke="#4d4d4d" stroke-width="0.9"/>
<rect x="250.30" y="798.64" width="5.6" height="5.76" fill="#7f7f7f" stroke="#4d4d4d" stroke-width="0.9"/>
<rect x="257.01" y="803.22" width="5.6" height="1.18" fill="#7f7f7f" stroke="#4d4d4d" stroke-width="0.9"/>
<line x1="263.57" y1="804.40" x2="269.47" y2="804.40" stroke="#555555" stroke-width="0.7" />
<line x1="270.28" y1="804.40" x2="276.18" y2="804.40" stroke="#555555" stroke-width="0.7" />
<line x1="276.99" y1="804.40" x2="282.89" y2="804.40" stroke="#555555" stroke-width="0.7" />
<line x1="283.70" y1="804.40" x2="289.60" y2="804.40" stroke="#555555" stroke-width="0.7" />
<line x1="290.41" y1="804.40" x2="296.31" y2="804.40" stroke="#555555" stroke-width="0.7" />
<line x1="297.12" y1="804.40" x2="303.02" y2="804.40" stroke="#555555" stroke-width="0.7" />
<line x1="303.83" y1="804.40" x2="309.73" y2="804.40" stroke="#555555" stroke-width="0.7" />
<line x1="310.54" y1="804.40" x2="316.44" y2="804.40" stroke="#555555" stroke-width="0.7" />
<line x1="317.25" y1="804.40" x2="323.15" y2="804.40" stroke="#555555" stroke-width="0.7" />
<text x="53.30" y="819.20" font-size="9.3" text-anchor="middle" fill="#262626" stroke="#262626" stroke-width="0.2">0</text>
<text x="66.72" y="819.20" font-size="9.3" text-anchor="middle" fill="#262626" stroke="#262626" stroke-width="0.2">2</text>
<text x="80.14" y="819.20" font-size="9.3" text-anchor="middle" fill="#262626" stroke="#262626" stroke-width="0.2">4</text>
<text x="93.56" y="819.20" font-size="9.3" text-anchor="middle" fill="#262626" stroke="#262626" stroke-width="0.2">6</text>
<text x="106.98" y="819.20" font-size="9.3" text-anchor="middle" fill="#262626" stroke="#262626" stroke-width="0.2">8</text>
<text x="120.40" y="819.20" font-size="9.3" text-anchor="middle" fill="#262626" stroke="#262626" stroke-width="0.2">10</text>
<text x="133.82" y="819.20" font-size="9.3" text-anchor="middle" fill="#262626" stroke="#262626" stroke-width="0.2">12</text>
<text x="147.24" y="819.20" font-size="9.3" text-anchor="middle" fill="#262626" stroke="#262626" stroke-width="0.2">14</text>
<text x="160.66" y="819.20" font-size="9.3" text-anchor="middle" fill="#262626" stroke="#262626" stroke-width="0.2">16</text>
<text x="174.08" y="819.20" font-size="9.3" text-anchor="middle" fill="#262626" stroke="#262626" stroke-width="0.2">18</text>
<text x="187.50" y="819.20" font-size="9.3" text-anchor="middle" fill="#262626" stroke="#262626" stroke-width="0.2">20</text>
<text x="200.92" y="819.20" font-size="9.3" text-anchor="middle" fill="#262626" stroke="#262626" stroke-width="0.2">22</text>
<text x="214.34" y="819.20" font-size="9.3" text-anchor="middle" fill="#262626" stroke="#262626" stroke-width="0.2">24</text>
<text x="227.76" y="819.20" font-size="9.3" text-anchor="middle" fill="#262626" stroke="#262626" stroke-width="0.2">26</text>
<text x="241.18" y="819.20" font-size="9.3" text-anchor="middle" fill="#262626" stroke="#262626" stroke-width="0.2">28</text>
<text x="254.60" y="819.20" font-size="9.3" text-anchor="middle" fill="#262626" stroke="#262626" stroke-width="0.2">30</text>
<text x="268.02" y="819.20" font-size="9.3" text-anchor="middle" fill="#262626" stroke="#262626" stroke-width="0.2">32</text>
<text x="281.44" y="819.20" font-size="9.3" text-anchor="middle" fill="#262626" stroke="#262626" stroke-width="0.2">34</text>
<text x="294.86" y="819.20" font-size="9.3" text-anchor="middle" fill="#262626" stroke="#262626" stroke-width="0.2">36</text>
<text x="308.28" y="819.20" font-size="9.3" text-anchor="middle" fill="#262626" stroke="#262626" stroke-width="0.2">38</text>
<text x="321.70" y="819.20" font-size="9.3" text-anchor="middle" fill="#262626" stroke="#262626" stroke-width="0.2">40</text>
<text x="196.50" y="835.40" font-size="12.25"  text-anchor="middle" fill="#111" word-spacing="0.9" stroke="#111" stroke-width="0.3">Length (nt)</text>
<line x1="226.00" y1="619.80" x2="226.00" y2="805.00" stroke="#d9253a" stroke-width="1.75" stroke-dasharray="6 3.1" stroke-dashoffset="3.1"/>
<text x="227.00" y="616.30" font-size="12.2"  text-anchor="middle" fill="#111" stroke="#111" stroke-width="0.15">26</text>
<text x="103.40" y="714.30" font-size="11.75"  text-anchor="start" fill="#1c1c1c" stroke="#1c1c1c" stroke-width="0.28">CPD</text>
<text x="360.60" y="588.00" font-size="20"  text-anchor="start" fill="#000" >F</text>
<line x1="385.40" y1="612.60" x2="385.40" y2="804.70" stroke="#747474" stroke-width="1.15" />
<line x1="381.20" y1="804.40" x2="386.20" y2="804.40" stroke="#6a6a6a" stroke-width="0.8" />
<text transform="translate(375.30,803.30) rotate(-90)" font-size="9.1" text-anchor="middle" fill="#262626" stroke="#262626" stroke-width="0.2">0</text>
<line x1="381.20" y1="766.10" x2="386.20" y2="766.10" stroke="#6a6a6a" stroke-width="0.8" />
<text transform="translate(375.30,765.00) rotate(-90)" font-size="9.1" text-anchor="middle" fill="#262626" stroke="#262626" stroke-width="0.2">5</text>
<line x1="381.20" y1="727.80" x2="386.20" y2="727.80" stroke="#6a6a6a" stroke-width="0.8" />
<text transform="translate(375.30,726.70) rotate(-90)" font-size="9.1" text-anchor="middle" fill="#262626" stroke="#262626" stroke-width="0.2">10</text>
<line x1="381.20" y1="689.50" x2="386.20" y2="689.50" stroke="#6a6a6a" stroke-width="0.8" />
<text transform="translate(375.30,688.40) rotate(-90)" font-size="9.1" text-anchor="middle" fill="#262626" stroke="#262626" stroke-width="0.2">15</text>
<line x1="381.20" y1="651.20" x2="386.20" y2="651.20" stroke="#6a6a6a" stroke-width="0.8" />
<text transform="translate(375.30,650.10) rotate(-90)" font-size="9.1" text-anchor="middle" fill="#262626" stroke="#262626" stroke-width="0.2">20</text>
<line x1="381.20" y1="612.90" x2="386.20" y2="612.90" stroke="#6a6a6a" stroke-width="0.8" />
<text transform="translate(375.30,611.80) rotate(-90)" font-size="9.1" text-anchor="middle" fill="#262626" stroke="#262626" stroke-width="0.2">25</text>
<text transform="translate(357.80,689.80) rotate(-90)" font-size="12.2" word-spacing="1.5" text-anchor="middle" fill="#111" stroke="#111" stroke-width="0.3">Frequency (%)</text>
<line x1="396.15" y1="804.40" x2="402.05" y2="804.40" stroke="#555555" stroke-width="0.7" />
<line x1="402.86" y1="804.40" x2="408.76" y2="804.40" stroke="#555555" stroke-width="0.7" />
<line x1="409.57" y1="804.40" x2="415.47" y2="804.40" stroke="#555555" stroke-width="0.7" />
<line x1="416.28" y1="804.40" x2="422.18" y2="804.40" stroke="#555555" stroke-width="0.7" />
<line x1="422.99" y1="804.40" x2="428.89" y2="804.40" stroke="#555555" stroke-width="0.7" />
<line x1="429.70" y1="804.40" x2="435.60" y2="804.40" stroke="#555555" stroke-width="0.7" />
<line x1="436.41" y1="804.40" x2="442.31" y2="804.40" stroke="#555555" stroke-width="0.7" />
<line x1="443.12" y1="804.40" x2="449.02" y2="804.40" stroke="#555555" stroke-width="0.7" />
<line x1="449.83" y1="804.40" x2="455.73" y2="804.40" stroke="#555555" stroke-width="0.7" />
<line x1="456.54" y1="804.40" x2="462.44" y2="804.40" stroke="#555555" stroke-width="0.7" />
<line x1="463.25" y1="804.40" x2="469.15" y2="804.40" stroke="#555555" stroke-width="0.7" />
<line x1="469.96" y1="804.40" x2="475.86" y2="804.40" stroke="#555555" stroke-width="0.7" />
<line x1="476.67" y1="804.40" x2="482.57" y2="804.40" stroke="#555555" stroke-width="0.7" />
<line x1="483.38" y1="804.40" x2="489.28" y2="804.40" stroke="#555555" stroke-width="0.7" />
<line x1="490.09" y1="804.40" x2="495.99" y2="804.40" stroke="#555555" stroke-width="0.7" />
<rect x="496.95" y="803.98" width="5.6" height="0.42" fill="#7f7f7f" stroke="#4d4d4d" stroke-width="0.9"/>
<rect x="503.66" y="803.45" width="5.6" height="0.95" fill="#7f7f7f" stroke="#4d4d4d" stroke-width="0.9"/>
<rect x="510.37" y="802.45" width="5.6" height="1.95" fill="#7f7f7f" stroke="#4d4d4d" stroke-width="0.9"/>
<rect x="517.08" y="801.92" width="5.6" height="2.48" fill="#7f7f7f" stroke="#4d4d4d" stroke-width="0.9"/>
<rect x="523.79" y="801.38" width="5.6" height="3.02" fill="#7f7f7f" stroke="#4d4d4d" stroke-width="0.9"/>
<rect x="530.50" y="800.23" width="5.6" height="4.17" fill="#7f7f7f" stroke="#4d4d4d" stroke-width="0.9"/>
<rect x="537.21" y="795.40" width="5.6" height="9.00" fill="#7f7f7f" stroke="#4d4d4d" stroke-width="0.9"/>
<rect x="543.92" y="783.91" width="5.6" height="20.49" fill="#7f7f7f" stroke="#4d4d4d" stroke-width="0.9"/>
<rect x="550.63" y="759.10" width="5.6" height="45.30" fill="#7f7f7f" stroke="#4d4d4d" stroke-width="0.9"/>
<rect x="557.34" y="710.76" width="5.6" height="93.64" fill="#7f7f7f" stroke="#4d4d4d" stroke-width="0.9"/>
<rect x="564.05" y="649.63" width="5.6" height="154.77" fill="#7f7f7f" stroke="#4d4d4d" stroke-width="0.9"/>
<rect x="570.76" y="624.74" width="5.6" height="179.66" fill="#7f7f7f" stroke="#4d4d4d" stroke-width="0.9"/>
<rect x="577.47" y="666.87" width="5.6" height="137.53" fill="#7f7f7f" stroke="#4d4d4d" stroke-width="0.9"/>
<rect x="584.18" y="733.05" width="5.6" height="71.35" fill="#7f7f7f" stroke="#4d4d4d" stroke-width="0.9"/>
<rect x="590.89" y="778.94" width="5.6" height="25.46" fill="#7f7f7f" stroke="#4d4d4d" stroke-width="0.9"/>
<rect x="597.60" y="798.32" width="5.6" height="6.08" fill="#7f7f7f" stroke="#4d4d4d" stroke-width="0.9"/>
<rect x="604.31" y="803.52" width="5.6" height="0.88" fill="#7f7f7f" stroke="#4d4d4d" stroke-width="0.9"/>
<line x1="610.87" y1="804.40" x2="616.77" y2="804.40" stroke="#555555" stroke-width="0.7" />
<line x1="617.58" y1="804.40" x2="623.48" y2="804.40" stroke="#555555" stroke-width="0.7" />
<line x1="624.29" y1="804.40" x2="630.19" y2="804.40" stroke="#555555" stroke-width="0.7" />
<line x1="631.00" y1="804.40" x2="636.90" y2="804.40" stroke="#555555" stroke-width="0.7" />
<line x1="637.71" y1="804.40" x2="643.61" y2="804.40" stroke="#555555" stroke-width="0.7" />
<line x1="644.42" y1="804.40" x2="650.32" y2="804.40" stroke="#555555" stroke-width="0.7" />
<line x1="651.13" y1="804.40" x2="657.03" y2="804.40" stroke="#555555" stroke-width="0.7" />
<line x1="657.84" y1="804.40" x2="663.74" y2="804.40" stroke="#555555" stroke-width="0.7" />
<line x1="664.55" y1="804.40" x2="670.45" y2="804.40" stroke="#555555" stroke-width="0.7" />
<text x="400.70" y="819.20" font-size="9.3" text-anchor="middle" fill="#262626" stroke="#262626" stroke-width="0.2">0</text>
<text x="414.12" y="819.20" font-size="9.3" text-anchor="middle" fill="#262626" stroke="#262626" stroke-width="0.2">2</text>
<text x="427.54" y="819.20" font-size="9.3" text-anchor="middle" fill="#262626" stroke="#262626" stroke-width="0.2">4</text>
<text x="440.96" y="819.20" font-size="9.3" text-anchor="middle" fill="#262626" stroke="#262626" stroke-width="0.2">6</text>
<text x="454.38" y="819.20" font-size="9.3" text-anchor="middle" fill="#262626" stroke="#262626" stroke-width="0.2">8</text>
<text x="467.80" y="819.20" font-size="9.3" text-anchor="middle" fill="#262626" stroke="#262626" stroke-width="0.2">10</text>
<text x="481.22" y="819.20" font-size="9.3" text-anchor="middle" fill="#262626" stroke="#262626" stroke-width="0.2">12</text>
<text x="494.64" y="819.20" font-size="9.3" text-anchor="middle" fill="#262626" stroke="#262626" stroke-width="0.2">14</text>
<text x="508.06" y="819.20" font-size="9.3" text-anchor="middle" fill="#262626" stroke="#262626" stroke-width="0.2">16</text>
<text x="521.48" y="819.20" font-size="9.3" text-anchor="middle" fill="#262626" stroke="#262626" stroke-width="0.2">18</text>
<text x="534.90" y="819.20" font-size="9.3" text-anchor="middle" fill="#262626" stroke="#262626" stroke-width="0.2">20</text>
<text x="548.32" y="819.20" font-size="9.3" text-anchor="middle" fill="#262626" stroke="#262626" stroke-width="0.2">22</text>
<text x="561.74" y="819.20" font-size="9.3" text-anchor="middle" fill="#262626" stroke="#262626" stroke-width="0.2">24</text>
<text x="575.16" y="819.20" font-size="9.3" text-anchor="middle" fill="#262626" stroke="#262626" stroke-width="0.2">26</text>
<text x="588.58" y="819.20" font-size="9.3" text-anchor="middle" fill="#262626" stroke="#262626" stroke-width="0.2">28</text>
<text x="602.00" y="819.20" font-size="9.3" text-anchor="middle" fill="#262626" stroke="#262626" stroke-width="0.2">30</text>
<text x="615.42" y="819.20" font-size="9.3" text-anchor="middle" fill="#262626" stroke="#262626" stroke-width="0.2">32</text>
<text x="628.84" y="819.20" font-size="9.3" text-anchor="middle" fill="#262626" stroke="#262626" stroke-width="0.2">34</text>
<text x="642.26" y="819.20" font-size="9.3" text-anchor="middle" fill="#262626" stroke="#262626" stroke-width="0.2">36</text>
<text x="655.68" y="819.20" font-size="9.3" text-anchor="middle" fill="#262626" stroke="#262626" stroke-width="0.2">38</text>
<text x="669.10" y="819.20" font-size="9.3" text-anchor="middle" fill="#262626" stroke="#262626" stroke-width="0.2">40</text>
<text x="544.10" y="835.40" font-size="12.25"  text-anchor="middle" fill="#111" word-spacing="0.9" stroke="#111" stroke-width="0.3">Length (nt)</text>
<line x1="573.50" y1="608.90" x2="573.50" y2="805.00" stroke="#d9253a" stroke-width="1.75" stroke-dasharray="6 3.1" stroke-dashoffset="2.7"/>
<text x="573.40" y="606.60" font-size="12.2"  text-anchor="middle" fill="#111" stroke="#111" stroke-width="0.15">26</text>
<text x="441.30" y="714.30" font-size="11.75"  text-anchor="start" fill="#1c1c1c" stroke="#1c1c1c" stroke-width="0.28">(6-4)PP</text>
<line x1="68.04" y1="49.68" x2="69.76" y2="50.72" stroke="#333333" stroke-width="1.1" />
<line x1="69.33" y1="45.68" x2="72.07" y2="47.32" stroke="#333333" stroke-width="1.1" />
<line x1="70.33" y1="41.92" x2="74.27" y2="44.28" stroke="#333333" stroke-width="1.1" />
<line x1="71.36" y1="38.06" x2="75.64" y2="40.64" stroke="#333333" stroke-width="1.1" />
<line x1="84.94" y1="50.52" x2="86.66" y2="49.48" stroke="#333333" stroke-width="1.1" />
<line x1="82.84" y1="47.55" x2="85.66" y2="45.85" stroke="#333333" stroke-width="1.1" />
<line x1="80.03" y1="44.08" x2="83.97" y2="41.72" stroke="#333333" stroke-width="1.1" />
<line x1="77.64" y1="40.77" x2="82.36" y2="37.93" stroke="#333333" stroke-width="1.1" />
<line x1="70.10" y1="53.20" x2="85.60" y2="53.20" stroke="#444444" stroke-width="0.88" />
<line x1="70.10" y1="53.20" x2="68.42" y2="63.76" stroke="#444444" stroke-width="0.88" />
<line x1="71.38" y1="71.07" x2="79.40" y2="77.10" stroke="#444444" stroke-width="0.88" />
<line x1="79.40" y1="77.10" x2="90.80" y2="66.70" stroke="#444444" stroke-width="0.88" />
<line x1="90.80" y1="66.70" x2="85.60" y2="53.20" stroke="#444444" stroke-width="0.88" />
<line x1="79.40" y1="77.10" x2="69.00" y2="88.00" stroke="#444444" stroke-width="0.88" />
<line x1="90.80" y1="66.70" x2="100.50" y2="58.20" stroke="#444444" stroke-width="0.88" />
<line x1="79.40" y1="77.10" x2="85.62" y2="86.29" stroke="#444444" stroke-width="0.88" />
<line x1="92.78" y1="89.63" x2="103.80" y2="88.50" stroke="#444444" stroke-width="0.88" />
<line x1="90.80" y1="66.70" x2="103.80" y2="71.40" stroke="#444444" stroke-width="0.88" />
<line x1="103.80" y1="71.40" x2="103.80" y2="88.50" stroke="#444444" stroke-width="0.88" />
<line x1="103.80" y1="88.50" x2="118.50" y2="96.80" stroke="#444444" stroke-width="0.88" />
<line x1="105.45" y1="86.96" x2="118.97" y2="94.60" stroke="#444444" stroke-width="0.88" />
<line x1="118.50" y1="96.80" x2="133.00" y2="88.80" stroke="#444444" stroke-width="0.88" />
<line x1="133.00" y1="88.80" x2="133.00" y2="72.20" stroke="#444444" stroke-width="0.88" />
<line x1="130.85" y1="88.14" x2="130.85" y2="72.86" stroke="#444444" stroke-width="0.88" />
<line x1="133.00" y1="72.20" x2="118.00" y2="64.10" stroke="#444444" stroke-width="0.88" />
<line x1="118.00" y1="64.10" x2="103.80" y2="71.40" stroke="#444444" stroke-width="0.88" />
<line x1="118.41" y1="66.30" x2="105.35" y2="73.02" stroke="#444444" stroke-width="0.88" />
<line x1="118.00" y1="64.10" x2="118.85" y2="52.79" stroke="#444444" stroke-width="0.88" />
<line x1="122.69" y1="45.21" x2="130.40" y2="38.60" stroke="#444444" stroke-width="0.88" />
<line x1="131.65" y1="38.59" x2="131.57" y2="23.19" stroke="#444444" stroke-width="0.88" />
<line x1="129.15" y1="38.61" x2="129.07" y2="23.21" stroke="#444444" stroke-width="0.88" />
<line x1="130.40" y1="38.60" x2="144.70" y2="46.20" stroke="#444444" stroke-width="0.88" />
<line x1="144.70" y1="46.20" x2="144.70" y2="62.80" stroke="#444444" stroke-width="0.88" />
<line x1="142.55" y1="46.86" x2="142.55" y2="62.14" stroke="#444444" stroke-width="0.88" />
<line x1="144.70" y1="62.80" x2="133.00" y2="72.20" stroke="#444444" stroke-width="0.88" />
<line x1="144.70" y1="46.20" x2="159.40" y2="42.20" stroke="#444444" stroke-width="0.88" />
<line x1="160.51" y1="42.77" x2="167.94" y2="28.22" stroke="#444444" stroke-width="0.88" />
<line x1="158.29" y1="41.63" x2="165.71" y2="27.08" stroke="#444444" stroke-width="0.88" />
<line x1="159.40" y1="42.20" x2="167.00" y2="54.00" stroke="#444444" stroke-width="0.88" />
<line x1="167.00" y1="54.00" x2="159.80" y2="66.60" stroke="#444444" stroke-width="0.88" />
<line x1="159.80" y1="66.60" x2="144.70" y2="62.80" stroke="#444444" stroke-width="0.88" />
<line x1="133.00" y1="88.80" x2="143.93" y2="94.56" stroke="#444444" stroke-width="0.88" />
<line x1="148.05" y1="101.30" x2="148.20" y2="113.90" stroke="#444444" stroke-width="0.88" />
<text x="76.50" y="36.32" font-size="10.9" font-weight="bold" text-anchor="middle" fill="#1a1a1a" >O</text>
<text x="67.70" y="72.22" font-size="10.9" font-weight="bold" text-anchor="middle" fill="#1a1a1a" >O</text>
<text x="88.20" y="94.02" font-size="10.9" font-weight="bold" text-anchor="middle" fill="#1a1a1a" >O</text>
<text x="119.20" y="52.12" font-size="10.9" font-weight="bold" text-anchor="middle" fill="#1a1a1a" >O</text>
<text x="130.30" y="22.12" font-size="10.9" font-weight="bold" text-anchor="middle" fill="#1a1a1a" >O</text>
<text x="169.10" y="27.12" font-size="10.9" font-weight="bold" text-anchor="middle" fill="#1a1a1a" >O</text>
<text x="148.00" y="100.62" font-size="10.9" font-weight="bold" text-anchor="middle" fill="#1a1a1a" >O</text>
<line x1="429.50" y1="47.90" x2="444.20" y2="39.70" stroke="#444444" stroke-width="0.88" />
<line x1="444.20" y1="39.70" x2="458.90" y2="47.90" stroke="#444444" stroke-width="0.88" />
<line x1="458.90" y1="64.30" x2="444.20" y2="72.50" stroke="#444444" stroke-width="0.88" />
<line x1="444.20" y1="72.50" x2="429.50" y2="64.30" stroke="#444444" stroke-width="0.88" />
<line x1="429.50" y1="64.30" x2="429.50" y2="47.90" stroke="#444444" stroke-width="0.88" />
<line x1="458.90" y1="47.90" x2="458.90" y2="64.30" stroke="#444444" stroke-width="0.88" />
<line x1="461.80" y1="50.36" x2="461.80" y2="61.84" stroke="#444444" stroke-width="0.88" />
<line x1="458.90" y1="64.30" x2="473.60" y2="72.50" stroke="#444444" stroke-width="0.88" />
<line x1="473.60" y1="72.50" x2="488.30" y2="64.30" stroke="#444444" stroke-width="0.88" />
<line x1="474.39" y1="68.74" x2="484.68" y2="63.00" stroke="#444444" stroke-width="0.88" />
<line x1="488.30" y1="64.30" x2="488.30" y2="47.90" stroke="#444444" stroke-width="0.88" />
<line x1="488.30" y1="47.90" x2="473.60" y2="39.70" stroke="#444444" stroke-width="0.88" />
<line x1="484.68" y1="49.20" x2="474.39" y2="43.46" stroke="#444444" stroke-width="0.88" />
<line x1="473.60" y1="39.70" x2="458.90" y2="47.90" stroke="#444444" stroke-width="0.88" />
<line x1="473.60" y1="39.70" x2="473.60" y2="23.30" stroke="#444444" stroke-width="0.88" />
<line x1="473.60" y1="23.30" x2="488.30" y2="15.10" stroke="#444444" stroke-width="0.88" />
<line x1="477.22" y1="24.60" x2="487.51" y2="18.86" stroke="#444444" stroke-width="0.88" />
<line x1="488.30" y1="15.10" x2="503.00" y2="23.30" stroke="#444444" stroke-width="0.88" />
<line x1="503.00" y1="23.30" x2="503.00" y2="39.70" stroke="#444444" stroke-width="0.88" />
<line x1="503.00" y1="39.70" x2="488.30" y2="47.90" stroke="#444444" stroke-width="0.88" />
<line x1="503.00" y1="23.30" x2="517.70" y2="15.10" stroke="#444444" stroke-width="0.88" />
<line x1="506.62" y1="24.60" x2="516.91" y2="18.86" stroke="#444444" stroke-width="0.88" />
<line x1="517.70" y1="15.10" x2="532.40" y2="23.30" stroke="#444444" stroke-width="0.88" />
<line x1="532.40" y1="23.30" x2="532.40" y2="39.70" stroke="#444444" stroke-width="0.88" />
<line x1="529.50" y1="25.76" x2="529.50" y2="37.24" stroke="#444444" stroke-width="0.88" />
<line x1="532.40" y1="39.70" x2="517.70" y2="47.90" stroke="#444444" stroke-width="0.88" />
<line x1="517.70" y1="47.90" x2="503.00" y2="39.70" stroke="#444444" stroke-width="0.88" />
<line x1="514.08" y1="49.20" x2="503.79" y2="43.46" stroke="#444444" stroke-width="0.88" />
<line x1="517.70" y1="47.90" x2="517.70" y2="64.30" stroke="#444444" stroke-width="0.88" />
<line x1="517.70" y1="64.30" x2="503.00" y2="72.50" stroke="#444444" stroke-width="0.88" />
<line x1="514.08" y1="63.00" x2="503.79" y2="68.74" stroke="#444444" stroke-width="0.88" />
<line x1="503.00" y1="72.50" x2="488.30" y2="64.30" stroke="#444444" stroke-width="0.88" />
<line x1="424.32" y1="33.76" x2="429.08" y2="34.44" stroke="#333333" stroke-width="1.1" />
<line x1="425.22" y1="37.49" x2="429.58" y2="38.11" stroke="#333333" stroke-width="1.1" />
<line x1="426.21" y1="41.29" x2="429.19" y2="41.71" stroke="#333333" stroke-width="1.1" />
<line x1="427.01" y1="45.51" x2="428.99" y2="45.79" stroke="#333333" stroke-width="1.1" />
<line x1="433.62" y1="28.25" x2="431.18" y2="32.95" stroke="#333333" stroke-width="1.1" />
<line x1="436.62" y1="31.12" x2="434.78" y2="34.68" stroke="#333333" stroke-width="1.1" />
<line x1="439.70" y1="33.75" x2="438.50" y2="36.05" stroke="#333333" stroke-width="1.1" />
<line x1="443.11" y1="36.40" x2="442.29" y2="38.00" stroke="#333333" stroke-width="1.1" />
<line x1="427.45" y1="66.52" x2="428.75" y2="67.28" stroke="#333333" stroke-width="1.1" />
<line x1="425.10" y1="69.15" x2="427.70" y2="70.65" stroke="#333333" stroke-width="1.1" />
<line x1="422.92" y1="71.47" x2="426.48" y2="73.53" stroke="#333333" stroke-width="1.1" />
<line x1="420.95" y1="73.80" x2="425.45" y2="76.40" stroke="#333333" stroke-width="1.1" />
<line x1="419.47" y1="75.82" x2="424.93" y2="78.98" stroke="#333333" stroke-width="1.1" />
<polygon points="444.20,74.00 440.85,92.60 447.55,92.60" fill="#757575"/>
<text x="425.90" y="30.14" font-size="10.4" font-weight="bold" text-anchor="middle" fill="#1a1a1a" >O</text>
<text x="414.90" y="87.60" font-size="10.3" font-weight="bold" text-anchor="middle" fill="#1a1a1a" >HO</text>
<text x="447.80" y="102.10" font-size="10.3" font-weight="bold" text-anchor="middle" fill="#1a1a1a" >OH</text>
<line x1="142.65" y1="321.50" x2="142.65" y2="306.80" stroke="#444444" stroke-width="0.88" />
<line x1="140.15" y1="321.50" x2="140.15" y2="306.80" stroke="#444444" stroke-width="0.88" />
<line x1="141.40" y1="321.50" x2="124.60" y2="330.60" stroke="#444444" stroke-width="0.88" />
<line x1="124.60" y1="330.60" x2="124.60" y2="348.30" stroke="#444444" stroke-width="0.88" />
<line x1="126.90" y1="331.66" x2="126.90" y2="347.24" stroke="#444444" stroke-width="0.88" />
<line x1="124.60" y1="348.30" x2="137.04" y2="355.66" stroke="#444444" stroke-width="0.88" />
<line x1="144.91" y1="355.58" x2="156.70" y2="348.30" stroke="#444444" stroke-width="0.88" />
<line x1="156.70" y1="348.30" x2="157.21" y2="335.30" stroke="#444444" stroke-width="0.88" />
<line x1="153.38" y1="328.16" x2="141.40" y2="321.50" stroke="#444444" stroke-width="0.88" />
<line x1="156.10" y1="349.40" x2="168.51" y2="356.19" stroke="#444444" stroke-width="0.88" />
<line x1="157.30" y1="347.20" x2="169.71" y2="354.00" stroke="#444444" stroke-width="0.88" />
<line x1="124.60" y1="330.60" x2="115.80" y2="314.60" stroke="#444444" stroke-width="0.88" />
<line x1="123.97" y1="324.90" x2="117.73" y2="313.54" stroke="#444444" stroke-width="0.8" />
<line x1="120.12" y1="327.02" x2="113.87" y2="315.66" stroke="#444444" stroke-width="0.8" />
<line x1="141.07" y1="363.40" x2="141.30" y2="380.40" stroke="#444444" stroke-width="0.88" />
<line x1="141.30" y1="380.40" x2="124.46" y2="370.44" stroke="#444444" stroke-width="0.88" />
<line x1="116.71" y1="370.70" x2="100.40" y2="381.90" stroke="#444444" stroke-width="0.88" />
<line x1="100.40" y1="381.90" x2="108.20" y2="396.30" stroke="#444444" stroke-width="0.88" />
<line x1="108.20" y1="396.30" x2="133.40" y2="395.30" stroke="#444444" stroke-width="1.3" />
<line x1="133.40" y1="395.30" x2="141.30" y2="380.40" stroke="#444444" stroke-width="0.88" />
<line x1="100.40" y1="381.90" x2="94.40" y2="368.50" stroke="#444444" stroke-width="0.88" />
<line x1="94.40" y1="368.50" x2="85.00" y2="368.10" stroke="#444444" stroke-width="0.88" />
<line x1="108.20" y1="396.30" x2="108.20" y2="409.30" stroke="#444444" stroke-width="0.88" />
<text x="141.40" y="305.34" font-size="10.4" font-weight="bold" text-anchor="middle" fill="#1a1a1a" >O</text>
<text x="141.00" y="361.74" font-size="10.4" font-weight="bold" text-anchor="middle" fill="#1a1a1a" >N</text>
<text x="173.50" y="361.24" font-size="10.4" font-weight="bold" text-anchor="middle" fill="#1a1a1a" >O</text>
<text x="120.50" y="371.84" font-size="10.4" font-weight="bold" text-anchor="middle" fill="#1a1a1a" >O</text>
<text x="153.60" y="334.10" font-size="10.3" font-weight="bold" text-anchor="start" fill="#1a1a1a" >NH</text>
<text x="76.90" y="371.80" font-size="10.3" font-weight="bold" text-anchor="middle" fill="#1a1a1a" >HO</text>
<text x="111.90" y="419.00" font-size="10.3" font-weight="bold" text-anchor="middle" fill="#1a1a1a" >OH</text>
<text x="409.20" y="322.10" font-size="10.4" font-weight="bold" text-anchor="start" fill="#1a1a1a" >Cl</text>
<text x="409.20" y="366.30" font-size="10.4" font-weight="bold" text-anchor="start" fill="#1a1a1a" >Cl</text>
<text x="464.90" y="340.80" font-size="10.4" font-weight="bold" text-anchor="middle" fill="#1a1a1a" >Pt</text>
<text x="506.2" y="322.7" font-size="10.4" font-weight="bold" fill="#1a1a1a">NH<tspan font-size="6.8" dy="2.9">3</tspan></text>
<text x="507.5" y="366.1" font-size="10.4" font-weight="bold" fill="#1a1a1a">NH<tspan font-size="6.8" dy="2.9">3</tspan></text>
<line x1="433.83" y1="316.54" x2="429.57" y2="323.66" stroke="#808080" stroke-width="1.7" />
<line x1="438.49" y1="320.74" x2="435.31" y2="326.06" stroke="#808080" stroke-width="1.7" />
<line x1="443.08" y1="324.60" x2="440.92" y2="328.20" stroke="#808080" stroke-width="1.7" />
<line x1="447.57" y1="328.29" x2="446.23" y2="330.51" stroke="#808080" stroke-width="1.7" />
<line x1="479.45" y1="327.27" x2="480.75" y2="329.53" stroke="#808080" stroke-width="1.7" />
<line x1="484.16" y1="323.78" x2="486.24" y2="327.42" stroke="#808080" stroke-width="1.7" />
<line x1="488.86" y1="319.71" x2="491.94" y2="325.09" stroke="#808080" stroke-width="1.7" />
<line x1="493.74" y1="315.70" x2="497.86" y2="322.90" stroke="#808080" stroke-width="1.7" />
<polygon points="450.9,344.3 429.9,351.5 434.3,359.0" fill="#787878"/>
<polygon points="478.0,343.9 502.4,352.6 498.0,360.6" fill="#787878"/>
<line x1="97.80" y1="606.40" x2="97.80" y2="589.00" stroke="#444444" stroke-width="0.88" />
<line x1="95.00" y1="606.40" x2="95.00" y2="589.00" stroke="#444444" stroke-width="0.88" />
<line x1="96.40" y1="606.40" x2="116.40" y2="617.40" stroke="#444444" stroke-width="0.88" />
<line x1="116.40" y1="617.40" x2="116.40" y2="639.40" stroke="#444444" stroke-width="1.15" />
<line x1="116.40" y1="639.40" x2="99.70" y2="648.92" stroke="#444444" stroke-width="0.88" />
<line x1="91.78" y1="648.80" x2="76.40" y2="639.40" stroke="#444444" stroke-width="0.88" />
<line x1="76.40" y1="639.40" x2="76.86" y2="624.20" stroke="#444444" stroke-width="0.88" />
<line x1="81.32" y1="616.51" x2="96.40" y2="606.40" stroke="#444444" stroke-width="0.88" />
<line x1="75.72" y1="638.18" x2="59.38" y2="647.33" stroke="#444444" stroke-width="0.88" />
<line x1="77.08" y1="640.62" x2="60.75" y2="649.78" stroke="#444444" stroke-width="0.88" />
<line x1="95.70" y1="656.80" x2="95.70" y2="667.10" stroke="#444444" stroke-width="0.88" />
<line x1="116.40" y1="617.40" x2="121.80" y2="595.80" stroke="#444444" stroke-width="0.88" />
<line x1="116.40" y1="617.40" x2="138.70" y2="617.40" stroke="#444444" stroke-width="0.88" />
<line x1="116.40" y1="639.40" x2="138.70" y2="639.40" stroke="#444444" stroke-width="1.25" />
<line x1="138.70" y1="617.40" x2="138.70" y2="639.40" stroke="#444444" stroke-width="0.88" />
<line x1="138.70" y1="617.40" x2="158.50" y2="607.00" stroke="#444444" stroke-width="0.88" />
<line x1="159.90" y1="607.00" x2="159.90" y2="590.80" stroke="#444444" stroke-width="0.88" />
<line x1="157.10" y1="607.00" x2="157.10" y2="590.80" stroke="#444444" stroke-width="0.88" />
<line x1="158.50" y1="607.00" x2="170.62" y2="616.58" stroke="#444444" stroke-width="0.88" />
<line x1="175.40" y1="624.55" x2="177.70" y2="640.10" stroke="#444444" stroke-width="0.88" />
<line x1="176.95" y1="641.28" x2="191.13" y2="650.30" stroke="#444444" stroke-width="0.88" />
<line x1="178.45" y1="638.92" x2="192.63" y2="647.94" stroke="#444444" stroke-width="0.88" />
<line x1="177.70" y1="640.10" x2="161.47" y2="648.66" stroke="#444444" stroke-width="0.88" />
<line x1="153.47" y1="648.41" x2="138.70" y2="639.40" stroke="#444444" stroke-width="0.88" />
<line x1="157.40" y1="656.40" x2="157.40" y2="667.50" stroke="#444444" stroke-width="0.88" />
<line x1="138.70" y1="617.40" x2="132.70" y2="596.00" stroke="#444444" stroke-width="0.88" />
<text x="96.40" y="587.34" font-size="10.4" font-weight="bold" text-anchor="middle" fill="#1a1a1a" >O</text>
<text x="55.70" y="654.74" font-size="10.4" font-weight="bold" text-anchor="middle" fill="#1a1a1a" >O</text>
<text x="158.50" y="589.14" font-size="10.4" font-weight="bold" text-anchor="middle" fill="#1a1a1a" >O</text>
<text x="196.10" y="655.54" font-size="10.4" font-weight="bold" text-anchor="middle" fill="#1a1a1a" >O</text>
<text x="95.70" y="654.94" font-size="10.4" font-weight="bold" text-anchor="middle" fill="#1a1a1a" >N</text>
<text x="157.40" y="654.54" font-size="10.4" font-weight="bold" text-anchor="middle" fill="#1a1a1a" >N</text>
<text x="80.90" y="623.20" font-size="10.3" font-weight="bold" text-anchor="end" fill="#1a1a1a" >HN</text>
<text x="170.90" y="623.60" font-size="10.3" font-weight="bold" text-anchor="start" fill="#1a1a1a" >NH</text>
<text x="121.60" y="615.70" font-size="10.6"  text-anchor="middle" fill="#1a1a1a" >5</text>
<text x="132.50" y="615.70" font-size="10.6"  text-anchor="middle" fill="#1a1a1a" >5</text>
<text x="120.40" y="649.60" font-size="10.6"  text-anchor="middle" fill="#1a1a1a" >6</text>
<text x="133.90" y="649.60" font-size="10.6"  text-anchor="middle" fill="#1a1a1a" >6</text>
<line x1="448.20" y1="602.49" x2="448.05" y2="587.39" stroke="#444444" stroke-width="0.88" />
<line x1="445.60" y1="602.51" x2="445.45" y2="587.41" stroke="#444444" stroke-width="0.88" />
<line x1="446.90" y1="602.50" x2="464.00" y2="611.40" stroke="#444444" stroke-width="0.88" />
<line x1="464.00" y1="611.40" x2="463.70" y2="630.90" stroke="#444444" stroke-width="0.88" />
<line x1="463.70" y1="630.90" x2="450.41" y2="638.89" stroke="#444444" stroke-width="0.88" />
<line x1="443.39" y1="638.88" x2="430.00" y2="630.80" stroke="#444444" stroke-width="0.88" />
<line x1="430.00" y1="630.80" x2="430.00" y2="615.30" stroke="#444444" stroke-width="0.88" />
<line x1="434.18" y1="609.05" x2="446.90" y2="602.50" stroke="#444444" stroke-width="0.88" />
<line x1="429.36" y1="629.67" x2="415.49" y2="637.51" stroke="#444444" stroke-width="0.88" />
<line x1="430.64" y1="631.93" x2="416.77" y2="639.77" stroke="#444444" stroke-width="0.88" />
<line x1="446.90" y1="648.60" x2="446.90" y2="662.00" stroke="#444444" stroke-width="0.88" />
<line x1="464.00" y1="611.40" x2="471.30" y2="598.80" stroke="#444444" stroke-width="0.88" />
<line x1="464.00" y1="611.40" x2="482.80" y2="611.40" stroke="#444444" stroke-width="0.88" />
<line x1="463.70" y1="630.90" x2="480.50" y2="640.70" stroke="#444444" stroke-width="0.88" />
<line x1="480.50" y1="640.70" x2="493.25" y2="632.77" stroke="#444444" stroke-width="0.88" />
<line x1="482.68" y1="641.93" x2="494.16" y2="634.80" stroke="#444444" stroke-width="0.88" />
<line x1="500.59" y1="632.70" x2="513.70" y2="640.50" stroke="#444444" stroke-width="0.88" />
<line x1="514.35" y1="641.63" x2="528.24" y2="633.62" stroke="#444444" stroke-width="0.88" />
<line x1="513.05" y1="639.37" x2="526.95" y2="631.37" stroke="#444444" stroke-width="0.88" />
<line x1="513.70" y1="640.50" x2="513.86" y2="656.00" stroke="#444444" stroke-width="0.88" />
<line x1="510.90" y1="662.00" x2="497.00" y2="669.40" stroke="#444444" stroke-width="0.88" />
<line x1="497.00" y1="669.40" x2="480.50" y2="660.20" stroke="#444444" stroke-width="0.88" />
<line x1="496.75" y1="666.74" x2="482.89" y2="659.01" stroke="#444444" stroke-width="0.88" />
<line x1="480.50" y1="660.20" x2="480.50" y2="640.70" stroke="#444444" stroke-width="0.88" />
<line x1="480.50" y1="660.20" x2="464.00" y2="669.40" stroke="#444444" stroke-width="0.88" />
<line x1="521.40" y1="663.90" x2="532.50" y2="670.00" stroke="#444444" stroke-width="0.88" />
<text x="446.70" y="585.78" font-size="10.5" stroke="#1a1a1a" stroke-width="0.32" text-anchor="middle" fill="#1a1a1a" >O</text>
<text x="411.60" y="644.98" font-size="10.5" stroke="#1a1a1a" stroke-width="0.32" text-anchor="middle" fill="#1a1a1a" >O</text>
<text x="532.10" y="633.68" font-size="10.5" stroke="#1a1a1a" stroke-width="0.32" text-anchor="middle" fill="#1a1a1a" >O</text>
<text x="446.90" y="647.58" font-size="10.5" stroke="#1a1a1a" stroke-width="0.32" text-anchor="middle" fill="#1a1a1a" >N</text>
<text x="496.90" y="631.08" font-size="10.5" stroke="#1a1a1a" stroke-width="0.32" text-anchor="middle" fill="#1a1a1a" >N</text>
<text x="516.30" y="664.98" font-size="10.5" stroke="#1a1a1a" stroke-width="0.32" text-anchor="middle" fill="#1a1a1a" >N</text>
<text x="431.70" y="614.00" font-size="10.5" stroke="#1a1a1a" stroke-width="0.32" text-anchor="end" fill="#1a1a1a" >HN</text>
<text x="471.20" y="597.20" font-size="10.5" stroke="#1a1a1a" stroke-width="0.32" text-anchor="start" fill="#1a1a1a" >OH</text>
<text x="470.20" y="629.60" font-size="10.4"  text-anchor="middle" fill="#1a1a1a" >6</text>
<text x="474.90" y="648.30" font-size="10.2"  text-anchor="middle" fill="#1a1a1a" >4</text>
</svg>
</body></html>
